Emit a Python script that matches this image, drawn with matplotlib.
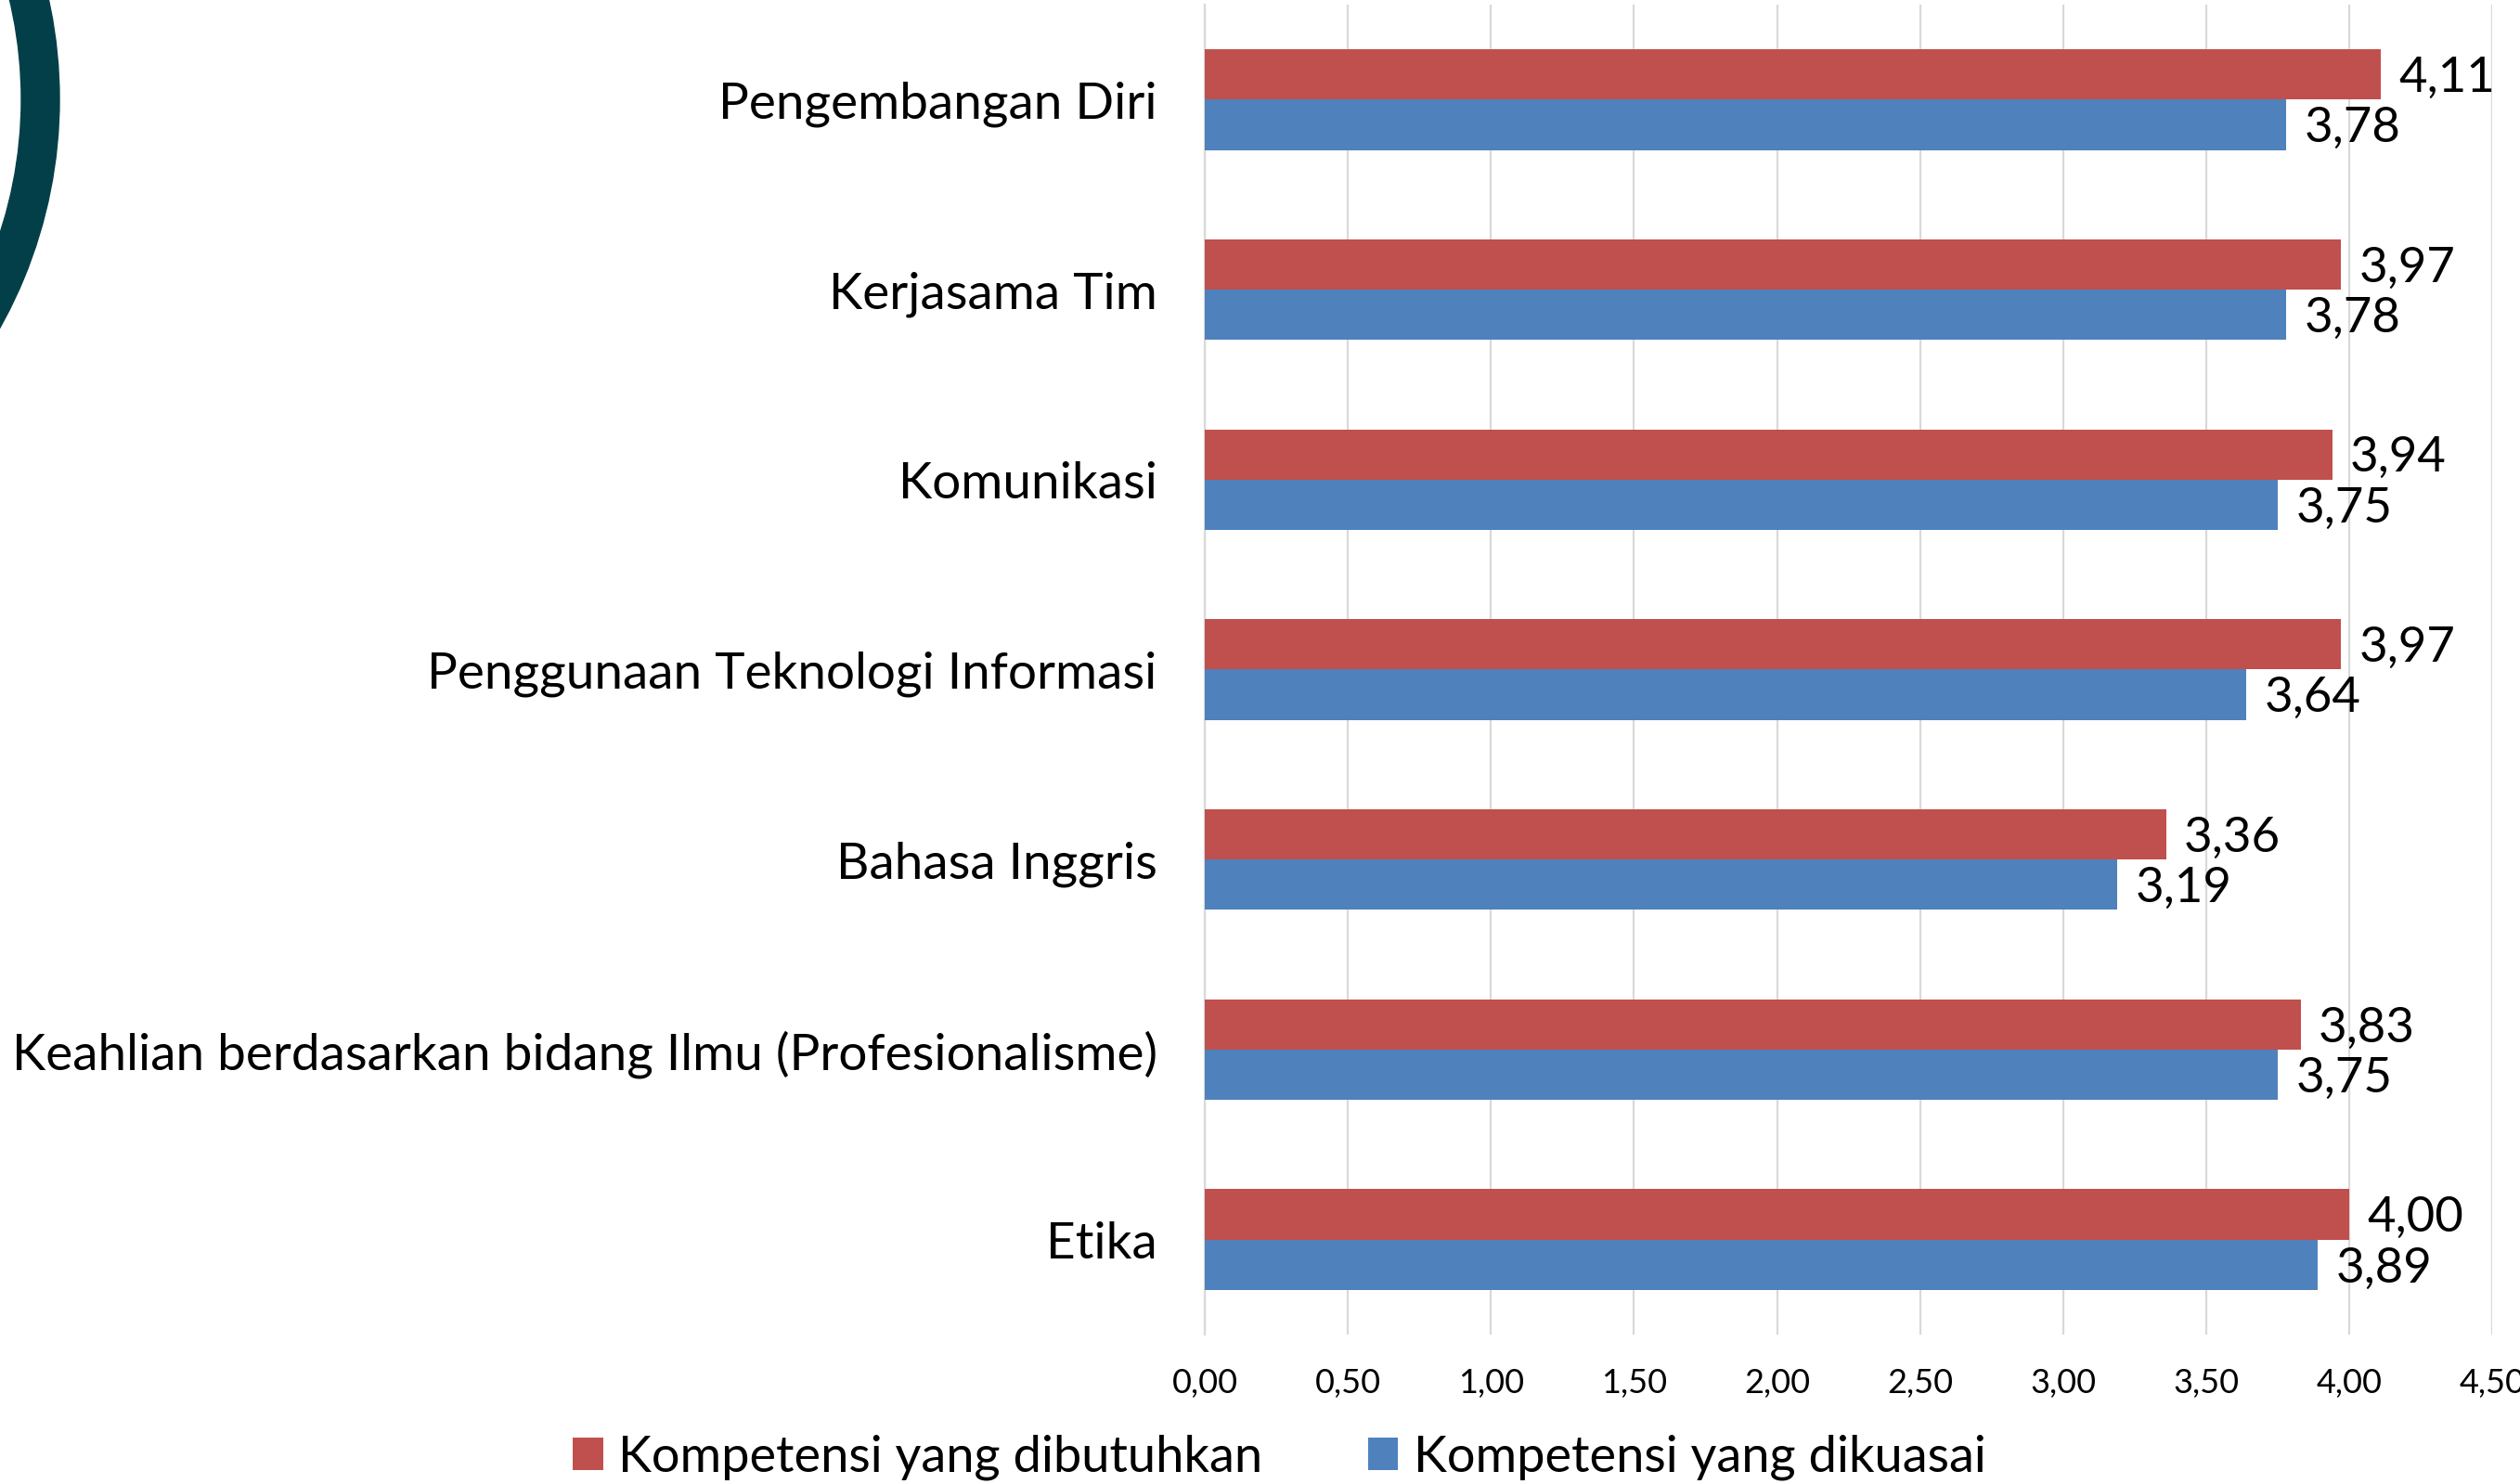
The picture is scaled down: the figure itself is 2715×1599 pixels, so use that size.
import matplotlib.pyplot as plt
from matplotlib.patches import Annulus
import numpy as np

categories = ["Pengembangan Diri", "Kerjasama Tim", "Komunikasi",
              "Penggunaan Teknologi Informasi", "Bahasa Inggris",
              "Keahlian berdasarkan bidang Ilmu (Profesionalisme)", "Etika"]
dibutuhkan = [4.11, 3.97, 3.94, 3.97, 3.36, 3.83, 4.00]
dikuasai = [3.78, 3.78, 3.75, 3.64, 3.19, 3.75, 3.89]
ticks = [0, 0.5, 1, 1.5, 2, 2.5, 3, 3.5, 4, 4.5]

RED = "#C0504D"
BLUE = "#4F81BD"
GRID = "#D9D9D9"
FONT = "Lato"

plt.rcParams['font.family'] = [FONT, 'DejaVu Sans']

fig = plt.figure(figsize=(27.15, 15.99), dpi=100)

# decorative ring in the top left corner
bg = fig.add_axes([0, 0, 1, 1])
bg.set_xlim(0, 2715)
bg.set_ylim(1599, 0)
bg.axis("off")
bg.add_patch(Annulus((-441, 107), 505, 41, color="#033F48"))

ax = fig.add_axes([0.4781, 0.1007, 0.9890 - 0.4781, 0.9969 - 0.1007])
y = np.arange(len(categories))
h = 0.265
b1 = ax.barh(y - h / 2, dibutuhkan, height=h, color=RED, label="Kompetensi yang dibutuhkan", zorder=3)
b2 = ax.barh(y + h / 2, dikuasai, height=h, color=BLUE, label="Kompetensi yang dikuasai", zorder=3)

fmt = lambda vals: [f"{v:.2f}".replace(".", ",") for v in vals]
for bars, vals in [(b1, dibutuhkan), (b2, dikuasai)]:
    for txt in ax.bar_label(bars, labels=fmt(vals), padding=14, fontsize=38):
        txt.xyann = (txt.xyann[0], -3)

ax.set_ylim(len(categories) - 0.5, -0.5)
ax.set_xlim(0, 4.5)
ax.set_yticks(y)
ax.set_yticklabels(categories, fontsize=39.5)
ax.set_xticks(ticks)
ax.set_xticklabels([f"{t:.2f}".replace(".", ",") for t in ticks], fontsize=26)
ax.tick_params(axis="y", length=0, pad=37)
ax.tick_params(axis="x", length=0, pad=26)
ax.grid(axis="x", color=GRID, linewidth=1.6, zorder=0)
for s in ["top", "right", "bottom"]:
    ax.spines[s].set_visible(False)
ax.spines["left"].set_color(GRID)
ax.spines["left"].set_linewidth(1.6)
ax.patch.set_alpha(0)

fig.legend(handles=[b1, b2], loc="center", bbox_to_anchor=(0.5077, 0.018), ncol=2,
           frameon=False, fontsize=39, handlelength=0.6, handleheight=0.6,
           handletextpad=0.3, columnspacing=2.1)

fig.savefig("out.png", dpi=100)
